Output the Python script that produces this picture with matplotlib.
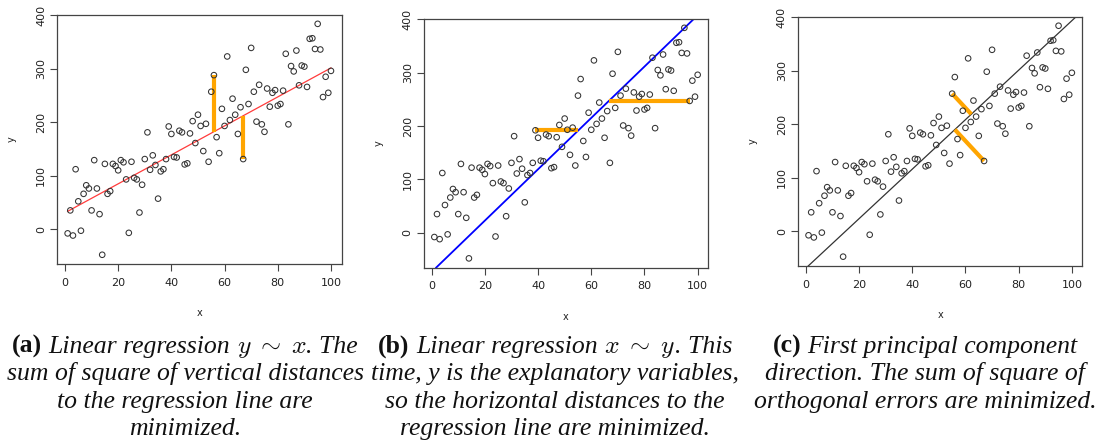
import numpy as np
import matplotlib
matplotlib.use("Agg")
import matplotlib.pyplot as plt

# ---------------- data ----------------
x = [1, 2, 3, 4, 5, 6, 7, 8, 9, 10,
     11, 12, 13, 14, 15, 16, 17, 18, 19, 20,
     21, 22, 23, 24, 25, 26, 27, 28, 29, 30,
     31, 32, 33, 34, 35, 36, 37, 38, 39, 40,
     41, 42, 43, 44, 45, 46, 47, 48, 49, 50,
     51, 52, 53, 54, 55, 56, 57, 58, 59, 60,
     61, 62, 63, 64, 65, 66, 67, 68, 69, 70,
     71, 72, 73, 74, 75, 76, 77, 78, 79, 80,
     81, 82, 83, 84, 85, 86, 87, 88, 89, 90,
     91, 92, 93, 94, 95, 96, 97, 98, 99, 100]
y = [-8, 35, -12, 112, 52, -3, 66, 82, 76, 35,
     129, 76, 28, -48, 122, 66, 71, 122, 118, 110,
     129, 125, 93, -7, 126, 96, 93, 31, 83, 131,
     181, 111, 138, 120, 57, 108, 112, 131, 192, 178,
     135, 134, 184, 181, 121, 123, 179, 202, 161, 214,
     193, 146, 197, 126, 257, 288, 172, 142, 225, 193,
     323, 204, 244, 214, 178, 228, 131, 298, 234, 339,
     257, 201, 270, 196, 182, 263, 229, 255, 260, 231,
     234, 259, 328, 196, 305, 295, 334, 269, 306, 304,
     266, 356, 357, 337, 384, 336, 247, 285, 255, 296]

# fitted lines: (intercept, slope) of y = a + b*x
line_a = (30.5, 2.71)     # regression y ~ x
line_b = (-73.4, 4.81)    # regression x ~ y (shown in y = a + b*x form)
line_c = (-69.5, 4.63)    # first principal component direction

highlight_a = [56, 67]   # vertical residuals
highlight_b = [39, 97]   # horizontal residuals
highlight_c = [55, 67]   # orthogonal residuals

xticks = [0, 20, 40, 60, 80, 100]
yticks = [0, 100, 200, 300, 400]

captions = {
    "a": [[("(a)", "b"), ("Linear regression", "i"), (r"$y\;\sim\;x$", "m"), (". The", "i0")],
          [("sum of square of vertical distances", "i")],
          [("to the regression line are", "i")],
          [("minimized.", "i")]],
    "b": [[("(b)", "b"), ("Linear regression", "i"), (r"$x\;\sim\;y$", "m"), (". This", "i0")],
          [("time, y is the explanatory variables,", "i")],
          [("so the horizontal distances to the", "i")],
          [("regression line are minimized.", "i")]],
    "c": [[("(c)", "b"), ("First principal component", "i")],
          [("direction. The sum of square of", "i")],
          [("orthogonal errors are minimized.", "i")]],
}

# ---------------- layout ----------------
W, H = 1102, 446
plt.rcParams['mathtext.fontset'] = 'cm'
fig = plt.figure(figsize=(W / 100, H / 100), dpi=100)

boxes = {"a": (57.1, 14.6, 284.4, 249.4),
         "b": (423.8, 18.6, 284.4, 249.0),
         "c": (798.0, 16.5, 284.4, 249.4)}
cap_cx = {"a": 185, "b": 555, "c": 925}

xa = np.array(x, float)
ya = np.array(y, float)
xr = xa.max() - xa.min()
yr = ya.max() - ya.min()

FRAME = '#444444'


def make_ax(key):
    l, t, w, h = boxes[key]
    ax = fig.add_axes([l / W, 1 - (t + h) / H, w / W, h / H])
    ax.set_xlim(xa.min() - 0.04 * xr, xa.max() + 0.04 * xr)
    ax.set_ylim(ya.min() - 0.04 * yr, ya.max() + 0.04 * yr)
    ax.set_xticks(xticks)
    ax.set_yticks(yticks)
    ax.tick_params(direction='out', length=5, width=0.8, colors=FRAME,
                   labelcolor='#222222', labelsize=8)
    ax.tick_params(axis='x', pad=5)
    ax.tick_params(axis='y', pad=3)
    plt.setp(ax.get_yticklabels(), rotation=90, va='center')
    for s in ax.spines.values():
        s.set_color(FRAME)
        s.set_linewidth(0.9)
    ax.set_xlabel('x', fontsize=7, color='#222222')
    ax.set_ylabel('y', fontsize=7, color='#222222')
    ax.xaxis.label.set_va('center')
    ax.yaxis.label.set_va('center')
    ax.xaxis.set_label_coords(0.5, -49 / h)
    ax.yaxis.set_label_coords(-45 / w, 0.5)
    ax.scatter(xa, ya, s=16, facecolors='none', edgecolors='#333333',
               linewidths=0.75, zorder=3)
    return ax


ORANGE = '#FFA500'
ax_a = make_ax("a")
ax_b = make_ax("b")
ax_c = make_ax("c")

# (a) regression y ~ x, vertical residuals
a0, a1 = line_a
xs = np.array([xa.min(), xa.max()])
ax_a.plot(xs, a0 + a1 * xs, color='#ff3b3b', lw=0.9, zorder=2)
for xi in highlight_a:
    yi = ya[x.index(xi)]
    ax_a.plot([xi, xi], [yi, a0 + a1 * xi], color=ORANGE, lw=3,
              solid_capstyle='butt', zorder=2.5)

# (b) regression x ~ y, horizontal residuals
b0, b1 = line_b
ax_b.axline((0.0, b0), slope=b1, color='#0000ff', lw=1.3, zorder=2)
for xi in highlight_b:
    yi = ya[x.index(xi)]
    ax_b.plot([xi, (yi - b0) / b1], [yi, yi], color=ORANGE, lw=3,
              solid_capstyle='butt', zorder=2.5)

# (c) principal component, orthogonal residuals (as seen on the plot)
c0, c1 = line_c
ax_c.axline((0.0, c0), slope=c1, color='#333333', lw=0.9, zorder=2)
T = ax_c.transData
A = T.transform((0.0, c0))
B = T.transform((50.0, c0 + 50.0 * c1))
u = (B - A) / np.linalg.norm(B - A)
for xi in highlight_c:
    yi = ya[x.index(xi)]
    P = T.transform((xi, yi))
    F = A + np.dot(P - A, u) * u
    fx, fy = T.inverted().transform(F)
    ax_c.plot([xi, fx], [yi, fy], color=ORANGE, lw=3,
              solid_capstyle='butt', zorder=2.5)

# ---------------- captions ----------------
FS = 18.5
SERIF = 'Liberation Serif'
styles = {
    "b": dict(family=SERIF, weight='bold', style='normal', size=FS),
    "i": dict(family=SERIF, style='italic', size=FS),
    "i0": dict(family=SERIF, style='italic', size=FS),
    "m": dict(size=FS),
}
fig.canvas.draw()
rend = fig.canvas.get_renderer()
tmp = fig.text(0, 0, "a a", **styles["i"])
w_aa = tmp.get_window_extent(rend).width
tmp.set_text("aa")
space_w = w_aa - tmp.get_window_extent(rend).width
tmp.remove()

line_y0 = 353
line_dy = 27.3
for key, lines in captions.items():
    for li, segs in enumerate(lines):
        ybase = line_y0 + li * line_dy
        objs = []
        total = 0.0
        for k, (s, st) in enumerate(segs):
            t = fig.text(0, 1 - ybase / H, s, ha='left', va='baseline',
                         color='#111111', **styles[st])
            wdt = t.get_window_extent(rend).width
            gap = 0.0 if (k == 0 or st == "i0") else space_w
            objs.append((t, wdt, gap))
            total += wdt + gap
        cur = cap_cx[key] - total / 2
        for t, wdt, gap in objs:
            cur += gap
            t.set_x(cur / W)
            cur += wdt

fig.savefig("out.png", dpi=100)
